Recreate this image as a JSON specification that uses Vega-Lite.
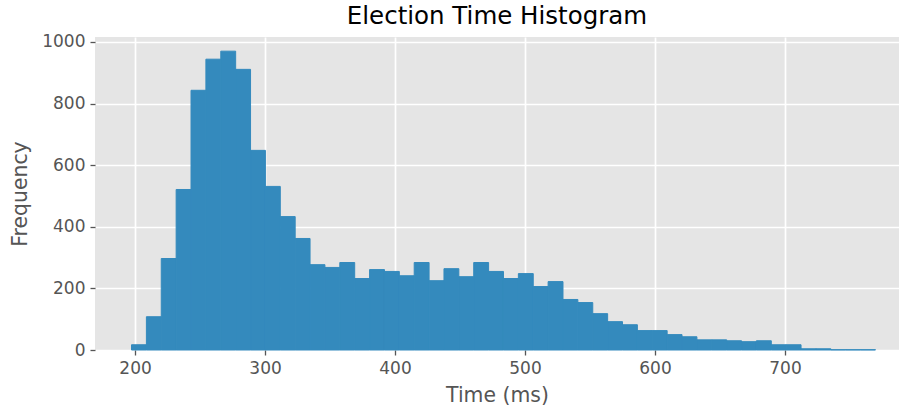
{
  "$schema": "https://vega.github.io/schema/vega-lite/v6.json",
  "width": 804,
  "height": 313,
  "autosize": {"type": "none"},
  "padding": {"left": 95, "top": 37, "right": 0, "bottom": 57},
  "background": "white",
  "title": {"text": "Election Time Histogram", "font": "DejaVu Sans", "fontSize": 24.5, "fontWeight": "normal", "color": "#000000", "offset": 3},
  "data": {"values": [
    {"bin_start": 196.90, "bin_end": 208.35, "count": 17},
    {"bin_start": 208.35, "bin_end": 219.79, "count": 108},
    {"bin_start": 219.79, "bin_end": 231.24, "count": 297},
    {"bin_start": 231.24, "bin_end": 242.68, "count": 521},
    {"bin_start": 242.68, "bin_end": 254.13, "count": 843},
    {"bin_start": 254.13, "bin_end": 265.58, "count": 944},
    {"bin_start": 265.58, "bin_end": 277.02, "count": 970},
    {"bin_start": 277.02, "bin_end": 288.47, "count": 911},
    {"bin_start": 288.47, "bin_end": 299.91, "count": 648},
    {"bin_start": 299.91, "bin_end": 311.36, "count": 531},
    {"bin_start": 311.36, "bin_end": 322.81, "count": 433},
    {"bin_start": 322.81, "bin_end": 334.25, "count": 362},
    {"bin_start": 334.25, "bin_end": 345.70, "count": 277},
    {"bin_start": 345.70, "bin_end": 357.14, "count": 268},
    {"bin_start": 357.14, "bin_end": 368.59, "count": 284},
    {"bin_start": 368.59, "bin_end": 380.04, "count": 232},
    {"bin_start": 380.04, "bin_end": 391.48, "count": 261},
    {"bin_start": 391.48, "bin_end": 402.93, "count": 255},
    {"bin_start": 402.93, "bin_end": 414.37, "count": 241},
    {"bin_start": 414.37, "bin_end": 425.82, "count": 284},
    {"bin_start": 425.82, "bin_end": 437.27, "count": 225},
    {"bin_start": 437.27, "bin_end": 448.71, "count": 264},
    {"bin_start": 448.71, "bin_end": 460.16, "count": 238},
    {"bin_start": 460.16, "bin_end": 471.60, "count": 284},
    {"bin_start": 471.60, "bin_end": 483.05, "count": 255},
    {"bin_start": 483.05, "bin_end": 494.50, "count": 232},
    {"bin_start": 494.50, "bin_end": 505.94, "count": 248},
    {"bin_start": 505.94, "bin_end": 517.39, "count": 206},
    {"bin_start": 517.39, "bin_end": 528.83, "count": 222},
    {"bin_start": 528.83, "bin_end": 540.28, "count": 164},
    {"bin_start": 540.28, "bin_end": 551.73, "count": 154},
    {"bin_start": 551.73, "bin_end": 563.17, "count": 118},
    {"bin_start": 563.17, "bin_end": 574.62, "count": 92},
    {"bin_start": 574.62, "bin_end": 586.06, "count": 82},
    {"bin_start": 586.06, "bin_end": 597.51, "count": 63},
    {"bin_start": 597.51, "bin_end": 608.96, "count": 63},
    {"bin_start": 608.96, "bin_end": 620.40, "count": 50},
    {"bin_start": 620.40, "bin_end": 631.85, "count": 43},
    {"bin_start": 631.85, "bin_end": 643.29, "count": 33},
    {"bin_start": 643.29, "bin_end": 654.74, "count": 33},
    {"bin_start": 654.74, "bin_end": 666.19, "count": 30},
    {"bin_start": 666.19, "bin_end": 677.63, "count": 27},
    {"bin_start": 677.63, "bin_end": 689.08, "count": 30},
    {"bin_start": 689.08, "bin_end": 700.52, "count": 17},
    {"bin_start": 700.52, "bin_end": 711.97, "count": 17},
    {"bin_start": 711.97, "bin_end": 723.42, "count": 4},
    {"bin_start": 723.42, "bin_end": 734.86, "count": 4},
    {"bin_start": 734.86, "bin_end": 746.31, "count": 1},
    {"bin_start": 746.31, "bin_end": 757.75, "count": 1},
    {"bin_start": 757.75, "bin_end": 769.20, "count": 1}
  ]},
  "mark": {"type": "bar", "fill": "#348ABD", "fillOpacity": 1, "opacity": 1, "binSpacing": 0, "stroke": "#348ABD", "strokeOpacity": 1, "strokeWidth": 1},
  "encoding": {
    "x": {
      "field": "bin_start", "type": "quantitative", "bin": "binned",
      "scale": {"domain": [169.2, 787.7], "nice": false, "zero": false},
      "axis": {"title": "Time (ms)", "values": [200, 300, 400, 500, 600, 700], "format": "d", "titlePadding": 9}
    },
    "x2": {"field": "bin_end"},
    "y": {
      "field": "count", "type": "quantitative",
      "scale": {"domain": [0, 1016], "nice": false},
      "axis": {"title": "Frequency", "values": [0, 200, 400, 600, 800, 1000], "format": "d", "titlePadding": 11}
    }
  },
  "config": {
    "view": {"fill": "#E5E5E5", "stroke": null},
    "axis": {
      "domain": false,
      "grid": true,
      "gridColor": "#FFFFFF",
      "gridWidth": 1.7,
      "gridOpacity": 1,
      "ticks": true,
      "tickColor": "#555555",
      "tickSize": 5,
      "tickWidth": 1.3,
      "labelFont": "DejaVu Sans",
      "labelFontSize": 17,
      "labelColor": "#555555",
      "labelPadding": 5,
      "titleFont": "DejaVu Sans",
      "titleFontSize": 20.4,
      "titleFontWeight": "normal",
      "titleColor": "#555555"
    }
  }
}
